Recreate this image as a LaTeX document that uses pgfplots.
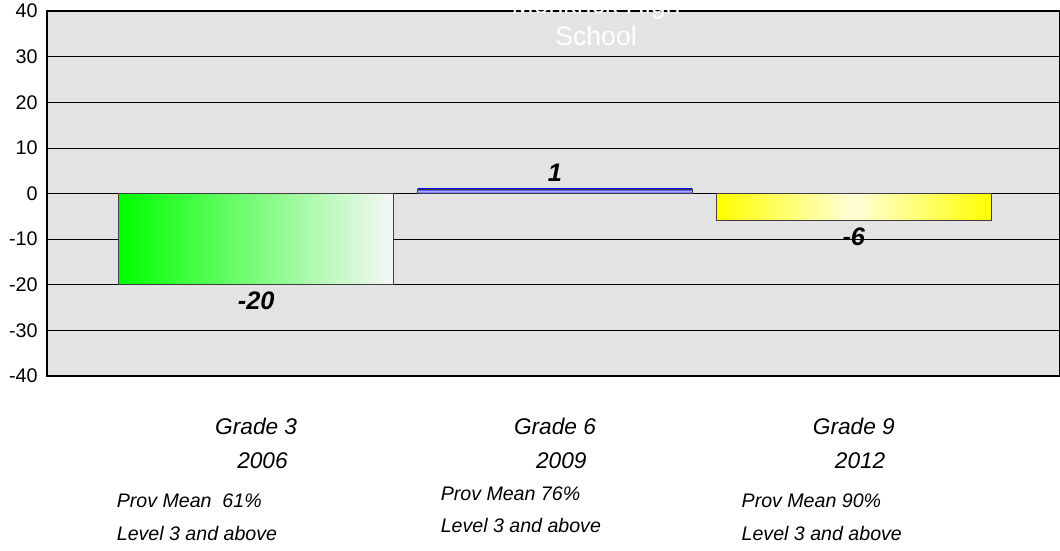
\documentclass[border=0pt]{standalone}
\usepackage{pgfplots}
\pgfplotsset{compat=1.18}
\usepackage{fontspec}
\setmainfont{Liberation Sans}
\definecolor{plotbg}{HTML}{E3E3E3}

\begin{document}
\begin{tikzpicture}
% page = 1060x550 px at 0.75pt per px
\useasboundingbox (-35.25pt,-130.5pt) rectangle (759.75pt,282pt);
\begin{axis}[
    at={(0,0)}, anchor=south west,
    scale only axis,
    width=759.75pt, height=273.75pt,
    xmin=-0.70, xmax=2.69,
    ymin=-40, ymax=40,
    ytick={-40,-30,...,40},
    xtick={0,1,2},
    xticklabels={{Grade 3\\\hphantom{0}2006},{Grade 6\\\hphantom{0}2009},{Grade 9\\\hphantom{0}2012}},
    xticklabel style={align=center, font=\fontsize{17}{25.5}\selectfont\itshape, yshift=-28pt},
    yticklabel style={font=\fontsize{14.8}{17}\selectfont, xshift=-3.5pt},
    /pgf/number format/assume math mode=true,
    major tick length=0pt,
    ymajorgrids=true,
    grid style={black, line width=0.5pt},
    extra y ticks={0},
    extra y tick labels={},
    extra y tick style={grid style={black, line width=1.3pt}},
    axis line style={black, line width=0.9pt},
    axis background/.style={fill=plotbg},
    clip=false,
    nodes near coords,
    nodes near coords style={font=\fontsize{19}{22}\selectfont\bfseries\itshape, inner sep=5pt},
]
\addplot[ybar, bar width=0.92, bar shift=0pt, draw=black!75, line width=0.6pt,
    left color=green, right color=white!97!black] coordinates {(0,-20)};
\addplot[ybar, bar width=0.92, bar shift=0pt, draw=black!75, line width=0.6pt,
    top color=blue, bottom color=blue, middle color=blue!25] coordinates {(1,1)};
\addplot[ybar, bar width=0.92, bar shift=0pt, draw=black!75, line width=0.6pt,
    left color=yellow, right color=yellow, middle color=yellow!15] coordinates {(2,-6)};

% title, partly above the page as in the reference
\node[anchor=base, yshift=-1.5pt, text=white, font=\fontsize{20}{24}\selectfont]
    at (rel axis cs:0.542,1) {Monkrick High};
\node[anchor=base, yshift=-25.5pt, text=white, font=\fontsize{20}{24}\selectfont]
    at (rel axis cs:0.542,1) {School};

% notes under the categories
\node[anchor=base west, font=\fontsize{14.7}{18}\selectfont\itshape] at (axis cs:-0.482,-68.8) {Prov Mean\ \ 61\%};
\node[anchor=base west, font=\fontsize{14.7}{18}\selectfont\itshape] at (axis cs:-0.482,-76.0) {Level 3 and above};
\node[anchor=base west, font=\fontsize{14.7}{18}\selectfont\itshape] at (axis cs:0.602,-67.2) {Prov Mean 76\%};
\node[anchor=base west, font=\fontsize{14.7}{18}\selectfont\itshape] at (axis cs:0.602,-74.4) {Level 3 and above};
\node[anchor=base west, font=\fontsize{14.7}{18}\selectfont\itshape] at (axis cs:1.609,-68.8) {Prov Mean 90\%};
\node[anchor=base west, font=\fontsize{14.7}{18}\selectfont\itshape] at (axis cs:1.609,-76.0) {Level 3 and above};
\end{axis}
\end{tikzpicture}
\end{document}
